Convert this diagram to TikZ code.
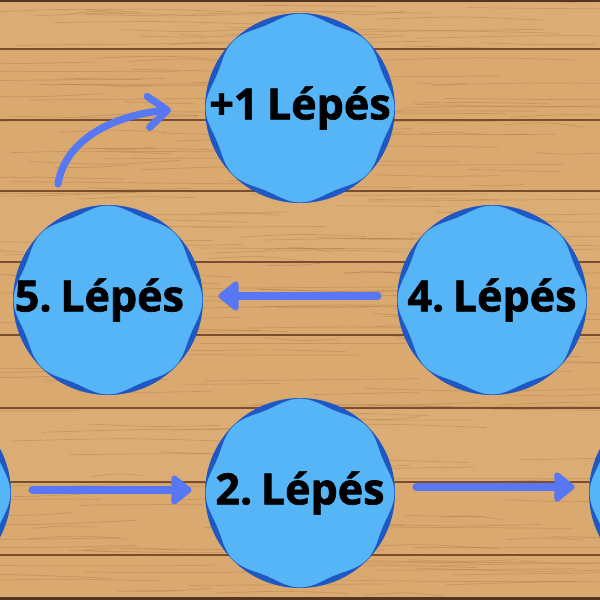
\documentclass[tikz,border=0pt]{standalone}
\usepackage{fontspec}
\setmainfont{Open Sans}[BoldFeatures={FakeBold=1.6}]
\usetikzlibrary{arrows.meta}
\definecolor{wood}{HTML}{D9A96F}
\definecolor{woodlight}{HTML}{E4BC86}
\definecolor{woodline}{HTML}{7A4C30}
\definecolor{grain}{HTML}{9E6535}
\definecolor{lightbl}{HTML}{55B5F7}
\definecolor{darkbl}{HTML}{1F57C3}
\definecolor{arrowbl}{HTML}{5877F2}
\newcommand\lblfont{\bfseries\fontsize{21.5}{21.5}\selectfont}
\tikzset{
  lbl/.style={circle, minimum size=95pt, inner sep=0pt, text=black,
    font=\lblfont},
  arr/.style={draw=arrowbl, line width=4pt, line cap=round,
    -{Triangle[round, length=11pt, width=17pt]}},
  carr/.style={draw=arrowbl, line width=3.6pt, line cap=round,
    -{Straight Barb[round, length=9.5pt, width=15.5pt]}},
  plankline/.style={draw=woodline, line width=0.8pt},
  grainline/.style={draw=grain, opacity=0.3, line width=0.35pt}
}
\begin{document}
\begin{tikzpicture}[x=0.5pt,y=-0.5pt]
\useasboundingbox (0,0) rectangle (600,600);
% wood background
\fill[wood] (0,0) rectangle (600,600);
\foreach \a/\b in {0/49,191/262,408/482}{
  \fill[woodlight, opacity=0.25] (0,\a) rectangle (600,\b);
}
\pgfmathsetseed{11}
\foreach \i in {1,...,260}{
  \pgfmathsetmacro\yy{rnd*600}
  \pgfmathsetmacro\xx{rnd*600}
  \pgfmathsetmacro\ll{50+rnd*220}
  \pgfmathsetmacro\dy{rnd*8-4}
  \pgfmathsetmacro\ey{rnd*5-2.5}
  \draw[grainline] (\xx-\ll/2,\yy) .. controls (\xx,\yy+\dy) .. (\xx+\ll/2,\yy+\ey);
}
\foreach \y in {49,120,191,262,335,408,482,555}{
  \draw[plankline] (0,\y) -- (600,\y);
}
\fill[woodline!70!black] (0,0) rectangle (600,2);
\fill[woodline!70!black] (0,597) rectangle (600,600);
% badges
\foreach \cx/\cy in {300/108,108/300,492/300,-84/493,300/493,684/493}{
  \begin{scope}[shift={(\cx,\cy)}]
    \fill[darkbl] (0,0) circle (47.5pt);
    \fill[lightbl] plot[domain=0:357.5, samples=144, smooth cycle]
      ({\x}:{47.2pt-1.25pt*(1-cos(8*\x))});
  \end{scope}
}
% labels
\node[lbl] (p1) at (300,108) {+1\hspace{0.2em}Lépés};
\node[lbl] (s5) at (108,300) {\hspace{-0.4em}5.\hspace{0.2em}Lépés};
\node[lbl] (s4) at (492,300) {4.\hspace{0.2em}Lépés};
\node[lbl] (s1) at (-84,493) {};
\node[lbl] (s2) at (300,493) {2.\hspace{0.2em}Lépés};
\node[lbl] (s3) at (684,493) {};
% connectors
\draw[arr, shorten <=10.5pt, shorten >=6.5pt] ([yshift=1.5pt]s1.east) -- ([yshift=1.5pt]s2.west);
\draw[arr, shorten <=10.5pt, shorten >=7pt] ([yshift=3pt]s2.east) -- ([yshift=3pt]s3.west);
\draw[arr, shorten <=9.5pt, shorten >=7.5pt] ([yshift=2pt]s4.west) -- ([yshift=2pt]s5.east);
\coordinate (cs) at (58,184);
\coordinate (ce) at (171,110);
\draw[carr] (cs) .. controls (66,135) and (122,114) .. (ce);
\end{tikzpicture}
\end{document}
